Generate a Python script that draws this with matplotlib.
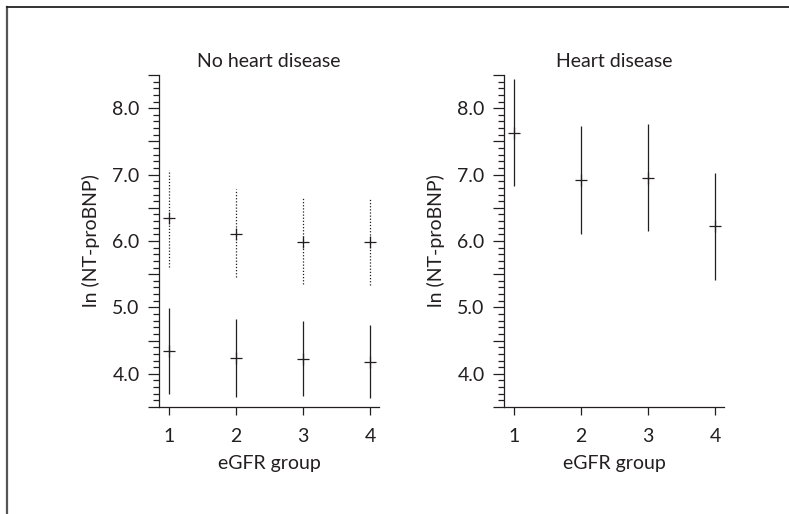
import numpy as np
import matplotlib.pyplot as plt
from matplotlib.ticker import MultipleLocator, FuncFormatter
from matplotlib.lines import Line2D

plt.rcParams['font.family'] = ['Lato', 'DejaVu Sans']

groups = [1, 2, 3, 4]

# no heart disease, lower series (solid)
nohd_low_mid = [4.35, 4.24, 4.23, 4.18]
nohd_low_top = [4.99, 4.82, 4.80, 4.74]
nohd_low_bot = [3.70, 3.65, 3.66, 3.63]

# no heart disease, upper series (dotted)
nohd_up_mid = [6.35, 6.10, 5.99, 5.99]
nohd_up_top = [7.07, 6.78, 6.65, 6.64]
nohd_up_bot = [5.61, 5.46, 5.35, 5.33]

# heart disease
hd_mid = [7.63, 6.92, 6.95, 6.22]
hd_top = [8.44, 7.73, 7.76, 7.03]
hd_bot = [6.83, 6.11, 6.15, 5.42]

ink = '#231f20'

fig = plt.figure(figsize=(7.89, 5.14), dpi=100)

# frame round the figure (left and top edges only are visible)
fig.add_artist(Line2D([7/789, 7/789], [0, 1 - 7/514], color='#555555', lw=1.6))
fig.add_artist(Line2D([7/789, 1], [1 - 7/514, 1 - 7/514], color='#222222', lw=1.3))


def draw_bars(ax, mid, top, bot, ls):
    ax.vlines(groups, bot, top, color=ink, lw=0.9, linestyle=ls)
    ax.plot(groups, mid, linestyle='none', marker='+', ms=8, mew=0.9, color=ink)


def style(ax, title):
    ax.set_xlim(0.85, 4.13)
    ax.set_ylim(3.5, 8.5)
    for s in ['top', 'right']:
        ax.spines[s].set_visible(False)
    for s in ['left', 'bottom']:
        ax.spines[s].set_color(ink)
        ax.spines[s].set_linewidth(0.9)
    ax.set_xticks(groups)
    ax.yaxis.set_major_locator(MultipleLocator(0.5))
    ax.yaxis.set_minor_locator(MultipleLocator(0.1))
    ax.yaxis.set_major_formatter(FuncFormatter(
        lambda v, p: f'{v:.1f}' if abs(v - round(v)) < 1e-6 and 3.9 < v < 8.1 else ''))
    ax.tick_params(axis='y', which='major', length=8, width=0.9, color=ink,
                   labelsize=14, labelcolor=ink, pad=6)
    ax.tick_params(axis='y', which='minor', length=4.5, width=0.9, color=ink)
    ax.tick_params(axis='x', length=6, width=0.9, color=ink,
                   labelsize=14, labelcolor=ink, pad=9)
    ax.set_title(title, fontsize=14, color=ink, pad=6)
    ax.set_xlabel('eGFR group', fontsize=14, color=ink, labelpad=7)
    ax.set_ylabel('ln (NT-proBNP)', fontsize=14, color=ink, labelpad=9)


ax1 = fig.add_axes([159/789, 1 - 407/514, 220/789, 332/514])
draw_bars(ax1, nohd_up_mid, nohd_up_top, nohd_up_bot, (0, (1, 1.5)))
draw_bars(ax1, nohd_low_mid, nohd_low_top, nohd_low_bot, '-')
style(ax1, 'No heart disease')

ax2 = fig.add_axes([504/789, 1 - 407/514, 220/789, 332/514])
draw_bars(ax2, hd_mid, hd_top, hd_bot, '-')
style(ax2, 'Heart disease')

fig.savefig('out.png', dpi=100)
